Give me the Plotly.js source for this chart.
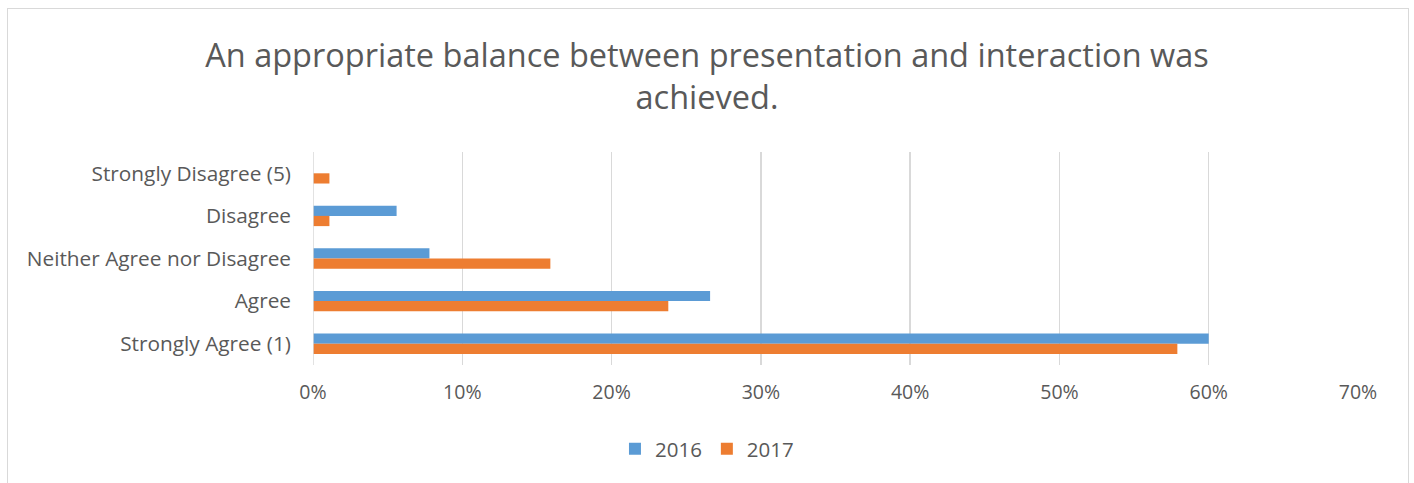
<!DOCTYPE html>
<html>
<head>
<meta charset="utf-8">
<script src="https://cdn.plot.ly/plotly-3.0.1.min.js"></script>
<style>
html,body{margin:0;padding:0;background:#fff;}
#chart{width:1414px;height:483px;}
#frame{position:absolute;left:7px;top:8px;width:1400px;height:490px;border:1px solid #d9d9d9;pointer-events:none;}
</style>
</head>
<body>
<div id="chart"></div>
<div id="frame"></div>
<script>
const categories = ["Strongly Disagree (5)", "Disagree", "Neither Agree nor Disagree", "Agree", "Strongly Agree (1)"];
const values2016 = [0, 0.056, 0.078, 0.266, 0.600];
const values2017 = [0.011, 0.011, 0.159, 0.238, 0.579];
const seriesNames = ["2016", "2017"];
const tickVals = [0, 0.1, 0.2, 0.3, 0.4, 0.5, 0.6, 0.7];
const tickText = ["0%", "10%", "20%", "30%", "40%", "50%", "60%", "70%"];

const font = "'Open Sans', 'Noto Sans', sans-serif";
const grey = "#595959";

const traces = [
  {type: "bar", orientation: "h", name: seriesNames[0], y: categories, x: values2016,
   marker: {color: "#5b9bd5"}, hoverinfo: "x+y"},
  {type: "bar", orientation: "h", name: seriesNames[1], y: categories, x: values2017,
   marker: {color: "#ed7d31"}, hoverinfo: "x+y"}
];

const layout = {
  width: 1414, height: 483,
  margin: {l: 313, r: 56, t: 152, b: 118},
  paper_bgcolor: "#fff", plot_bgcolor: "#fff",
  font: {family: font, color: grey, size: 20},
  title: {
    text: "An appropriate balance between presentation and interaction was<br>achieved.",
    font: {family: font, size: 32.5, color: grey},
    x: 0.5, xref: "container", xanchor: "center",
    y: 0.861, yref: "container", yanchor: "middle"
  },
  barmode: "group",
  bargap: 0.52,
  bargroupgap: 0,
  xaxis: {
    range: [0, 0.7], tickvals: tickVals, ticktext: tickText,
    showgrid: true, gridcolor: "#d9d9d9", gridwidth: 1.5,
    zeroline: false, showline: false, ticks: "",
    ticklabelstandoff: 13,
    tickfont: {size: 19.5, color: grey, family: font},
    fixedrange: true
  },
  yaxis: {
    autorange: "reversed", type: "category",
    showgrid: false, zeroline: false, showline: false, ticks: "",
    ticklabelstandoff: 21,
    tickfont: {size: 20.8, color: grey, family: font},
    fixedrange: true
  },
  shapes: [{type: "line", xref: "x", yref: "paper", x0: 0, x1: 0, y0: 0, y1: 1,
            line: {color: "#d9d9d9", width: 1.5}}],
  showlegend: true,
  legend: {
    orientation: "h", x: 0.377, xanchor: "center", y: -0.394, yanchor: "middle",
    font: {size: 20.5, color: grey, family: font}, itemwidth: 30, traceorder: "normal"
  }
};

Plotly.newPlot("chart", traces, layout, {displayModeBar: false, staticPlot: true});
</script>
</body>
</html>
